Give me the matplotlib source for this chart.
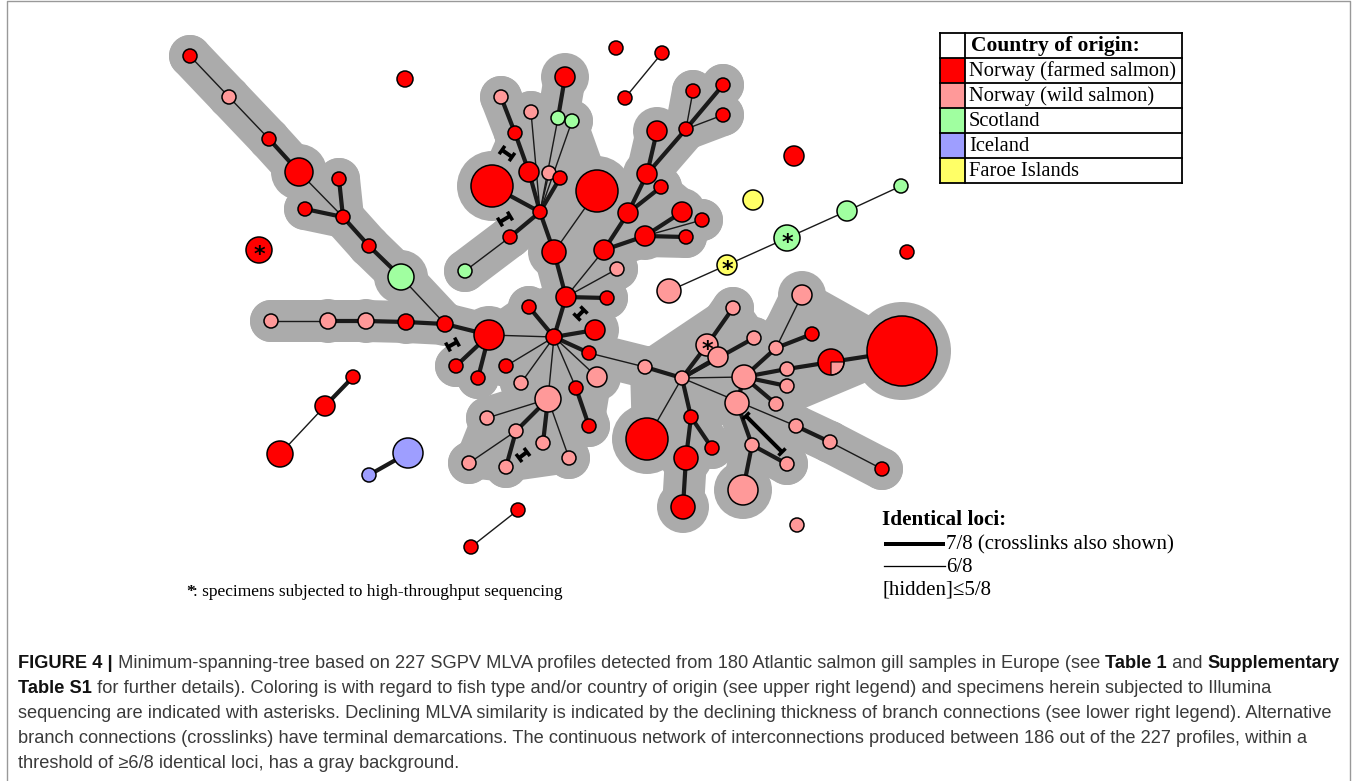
import matplotlib
matplotlib.use("Agg")
import matplotlib.pyplot as plt
from matplotlib.patches import Circle, Wedge, Rectangle, Polygon
import numpy as np

# ---------------- data ----------------
# node positions (layout of the minimum spanning tree), radius, category
node_x = [190, 229, 269, 299, 339, 305, 343, 369, 401, 445,
          271, 328, 366, 406, 489, 456, 478, 554, 529, 566,
          607, 595, 589, 506, 521, 548, 576, 597, 589, 487,
          516, 543, 569, 469, 506, 565, 501, 531, 558, 572,
          515, 529, 549, 560, 492, 597, 540, 510, 465, 554,
          617, 604, 628, 647, 657, 661, 686, 693, 723, 723,
          645, 682, 702, 686, 645, 682, 707, 733, 718, 754,
          744, 776, 802, 812, 787, 787, 776, 831, 902, 737,
          752, 787, 743, 796, 830, 882, 647, 691, 712, 686,
          683,
          405, 259, 616, 662, 625, 794, 753, 669, 727, 787,
          847, 901, 907, 353, 325, 280, 408, 369, 518, 471, 797]
node_y = [56, 97, 139, 172, 179, 209, 217, 246, 277, 324,
          321, 321, 321, 322, 335, 366, 378, 337, 307, 297,
          298, 330, 353, 366, 383, 399, 388, 377, 426, 418,
          431, 443, 458, 463, 467, 77, 97, 112, 118, 121,
          133, 172, 173, 178, 186, 191, 212, 237, 271, 252,
          269, 250, 213, 174, 131, 187, 129, 91, 85, 115,
          236, 212, 220, 237, 367, 378, 345, 308, 357, 338,
          377, 348, 295, 334, 369, 386, 404, 362, 351, 403,
          445, 464, 490, 426, 442, 469, 439, 417, 448, 458,
          507,
          79, 250, 48, 53, 98, 156, 200, 291, 265, 238,
          211, 186, 252, 377, 406, 454, 453, 475, 510, 547, 525]
node_r = [7, 7, 7, 14, 7, 7, 7, 7, 13, 8,
          7, 8, 8, 8, 15, 7, 7, 8, 7, 10,
          7, 10, 7, 7, 7, 13, 7, 10, 7, 7,
          7, 7, 7, 7, 7, 10, 7, 7, 7, 7,
          7, 10, 7, 7, 21, 21, 7, 7, 7, 12,
          7, 10, 10, 10, 10, 7, 7, 7, 7, 7,
          10, 10, 7, 7, 7, 7, 11, 7, 10, 7,
          12, 7, 10, 7, 7, 7, 7, 13, 35, 12,
          7, 7, 15, 7, 7, 7, 21, 7, 7, 12,
          12,
          8, 13, 7, 7, 7, 10, 10, 12, 10, 13,
          10, 7, 7, 7, 10, 13, 15, 7, 7, 7, 7]
# R farmed Norway, P wild Norway, G Scotland, B Iceland, Y Faroe, M mixed
node_cat = list("RPRRRRRRGR" "PPPRRRRRRR" "RRRRPPRPRP" "PPPPPRPPGG"
                "RRPRRRRRGR" "PRRRRRRRRR" "RRRRPPPPPP" "PPPRPPPMRP"
                "PPPPPRRRRR" "R" "RRRRRRYPYG" "GGRRRRBBRRP")
starred = [66, 92, 99, 100]
n_gray = 91  # first 91 nodes form the connected >=6/8 network

edge_a = [0, 1, 2, 3, 4, 5, 6, 7, 8, 10, 11, 12, 13, 9,
          14, 14, 14, 17, 17, 17, 17, 17, 17, 17, 17, 17, 26, 19, 22,
          25, 25, 25, 25, 30, 30,
          19, 49, 46, 41, 40, 46, 46, 46, 46, 35, 46, 44, 47, 48, 45,
          19, 19, 51, 52, 53, 53, 56, 56, 56, 52, 51, 60, 60, 60,
          64, 65, 66, 65, 65, 65, 65, 65, 65, 87, 87, 89,
          70, 71, 71, 70, 70, 70, 74, 77, 70, 79, 80, 80, 83, 84,
          94, 98, 99, 100, 101, 104, 105, 107, 109]
edge_b = [1, 2, 3, 6, 6, 6, 7, 8, 9, 11, 12, 13, 9, 14,
          15, 16, 17, 18, 19, 21, 22, 23, 24, 25, 26, 27, 28, 20, 64,
          29, 30, 31, 32, 33, 34,
          49, 46, 41, 40, 36, 43, 42, 38, 39, 38, 37, 46, 46, 47, 49,
          50, 51, 52, 53, 54, 56, 57, 58, 59, 55, 60, 61, 62, 63,
          65, 66, 67, 68, 69, 70, 83, 86, 87, 88, 89, 90,
          71, 72, 73, 74, 75, 76, 77, 78, 79, 80, 82, 81, 84, 85,
          95, 99, 100, 101, 102, 105, 106, 108, 110]
edge_thick = [0, 0, 1, 0, 1, 1, 1, 1, 0, 0, 1, 1, 1, 1,
              1, 1, 0, 1, 1, 1, 1, 0, 0, 0, 0, 0, 1, 1, 0,
              0, 1, 1, 0, 0, 1,
              1, 1, 1, 1, 1, 1, 0, 0, 0, 1, 0, 1, 1, 0, 0,
              0, 0, 1, 1, 1, 1, 0, 1, 0, 1, 1, 1, 0, 1,
              1, 1, 1, 1, 1, 0, 0, 0, 1, 1, 1, 1,
              1, 0, 1, 1, 1, 1, 1, 1, 1, 1, 1, 1, 1, 0,
              0, 0, 0, 0, 0, 1, 0, 1, 0]

# local clusters whose area is shaded as a whole
shade_groups = [[14, 17, 18, 19, 21, 22, 23, 24, 25, 26, 27, 28],
                [25, 29, 30, 31, 32, 33, 34],
                [64, 65, 66, 67, 68, 69, 70, 79, 86, 87],
                [70, 71, 72, 73, 74, 75, 76, 77, 78, 79],
                [40, 41, 42, 43, 44, 45, 46, 38, 39],
                [51, 52, 53, 55, 60, 61, 62, 63]]

# crosslinks: (x1, y1, x2, y2)
cross_links = [(502, 150, 512, 157), (500, 222, 510, 216), (577, 317, 584, 310),
               (448, 347, 457, 342), (519, 458, 527, 452), (746, 416, 782, 452)]

cat_colors = {"R": "#FF0000", "P": "#FF9999", "G": "#A0FFA0",
              "B": "#9E9EFF", "Y": "#FFFF66"}
legend_labels = ["Norway (farmed salmon)", "Norway (wild salmon)", "Scotland",
                 "Iceland", "Faroe Islands"]
legend_cats = ["R", "P", "G", "B", "Y"]

# ---------------- figure ----------------
W, H = 1355, 781
fig = plt.figure(figsize=(W / 100, H / 100), dpi=100)
ax = fig.add_axes([0, 0, 1, 1])
ax.set_xlim(0, W)
ax.set_ylim(H, 0)
ax.axis("off")

GRAY = "#ABABAB"
px2pt = 72 / 100


def hull(points):
    pts = sorted(set(points))
    if len(pts) < 3:
        return pts

    def cross(o, a, b):
        return (a[0] - o[0]) * (b[1] - o[1]) - (a[1] - o[1]) * (b[0] - o[0])
    lower, upper = [], []
    for p in pts:
        while len(lower) >= 2 and cross(lower[-2], lower[-1], p) <= 0:
            lower.pop()
        lower.append(p)
    for p in reversed(pts):
        while len(upper) >= 2 and cross(upper[-2], upper[-1], p) <= 0:
            upper.pop()
        upper.append(p)
    return lower[:-1] + upper[:-1]


# gray background network
for grp in shade_groups:
    hp = hull([(node_x[i], node_y[i]) for i in grp])
    ax.add_patch(Polygon(hp, closed=True, facecolor=GRAY, edgecolor=GRAY,
                         lw=30 * px2pt, joinstyle="round", zorder=1))
for a, b in zip(edge_a, edge_b):
    if a < n_gray and b < n_gray:
        ax.plot([node_x[a], node_x[b]], [node_y[a], node_y[b]], color=GRAY,
                lw=42 * px2pt, solid_capstyle="round", zorder=1)
for i in range(n_gray):
    ax.add_patch(Circle((node_x[i], node_y[i]), node_r[i] + 14, color=GRAY,
                        lw=0, zorder=1))

# edges
for a, b, t in zip(edge_a, edge_b, edge_thick):
    ax.plot([node_x[a], node_x[b]], [node_y[a], node_y[b]], color="#1a1a1a",
            lw=(4.2 if t else 1.4) * px2pt, solid_capstyle="butt", zorder=2)

# crosslinks with terminal demarcations
for x1, y1, x2, y2 in cross_links:
    ax.plot([x1, x2], [y1, y2], color="black", lw=4 * px2pt, zorder=3,
            solid_capstyle="butt")
    dx, dy = x2 - x1, y2 - y1
    L = np.hypot(dx, dy)
    nx_, ny_ = -dy / L * 5, dx / L * 5
    for (px, py) in [(x1, y1), (x2, y2)]:
        ax.plot([px - nx_, px + nx_], [py - ny_, py + ny_], color="black",
                lw=3.5 * px2pt, zorder=3, solid_capstyle="butt")

# nodes
for i in range(len(node_x)):
    c = node_cat[i]
    if c == "M":
        ax.add_patch(Circle((node_x[i], node_y[i]), node_r[i], facecolor=cat_colors["R"],
                            edgecolor="none", zorder=4))
        ax.add_patch(Wedge((node_x[i], node_y[i]), node_r[i], 0, 90,
                           facecolor=cat_colors["P"], edgecolor="black", lw=0.8, zorder=4))
        ax.add_patch(Circle((node_x[i], node_y[i]), node_r[i], facecolor="none",
                            edgecolor="black", lw=1.1, zorder=4))
    else:
        ax.add_patch(Circle((node_x[i], node_y[i]), node_r[i], facecolor=cat_colors[c],
                            edgecolor="black", lw=1.1, zorder=4))
for i in starred:
    ax.text(node_x[i], node_y[i] + 5, "*", ha="center", va="center", fontsize=16,
            fontweight="bold", color="black", zorder=5, family="DejaVu Sans")

# ---------------- legends ----------------
serif = "Liberation Serif"
tx0, tx1, tcol = 940, 1182, 965
ty = [33, 58, 83, 108, 133, 158, 183]
for k, c in enumerate(legend_cats):
    ax.add_patch(Rectangle((tx0, ty[k + 1]), tcol - tx0, ty[k + 2] - ty[k + 1],
                           facecolor=cat_colors[c], edgecolor="none", zorder=5))
for yy in ty:
    ax.plot([tx0, tx1], [yy, yy], color="black", lw=1.3, zorder=6)
for xx in (tx0, tcol, tx1):
    ax.plot([xx, xx], [ty[0], ty[-1]], color="black", lw=1.3, zorder=6)
ax.text(971, 46, "Country of origin:", fontsize=15.5, fontweight="bold",
        family=serif, va="center", ha="left", zorder=6)
for k, lab in enumerate(legend_labels):
    ax.text(969, (ty[k + 1] + ty[k + 2]) / 2 + 1, lab, fontsize=14.8, family=serif,
            va="center", ha="left", zorder=6)

ax.text(882, 520, "Identical loci:", fontsize=15.3, fontweight="bold", family=serif,
        va="center", ha="left")
ax.plot([884, 945], [544, 544], color="black", lw=4 * px2pt, solid_capstyle="butt")
ax.text(946, 545, "7/8 (crosslinks also shown)", fontsize=15, family=serif,
        va="center", ha="left")
ax.plot([884, 945], [566, 566], color="black", lw=1.3 * px2pt)
ax.text(946, 567, "6/8", fontsize=15, family=serif, va="center", ha="left")
ax.text(882, 590, "[hidden]\u22645/8", fontsize=15, family=serif, va="center", ha="left")

ax.text(186, 592, "*", fontsize=12.5, fontweight="bold", family=serif,
        va="center", ha="left")
ax.text(193, 592, ": specimens subjected to high-throughput sequencing", fontsize=12.5,
        family=serif, va="center", ha="left")

# ---------------- caption ----------------
cap_font = "Liberation Sans"
caption = [
    [("FIGURE 4 |", True), (" Minimum-spanning-tree based on 227 SGPV MLVA profiles detected from 180 Atlantic salmon gill samples in Europe (see ", False),
     ("Table 1", True), (" and ", False), ("Supplementary", True)],
    [("Table S1", True), (" for further details). Coloring is with regard to fish type and/or country of origin (see upper right legend) and specimens herein subjected to Illumina", False)],
    [("sequencing are indicated with asterisks. Declining MLVA similarity is indicated by the declining thickness of branch connections (see lower right legend). Alternative", False)],
    [("branch connections (crosslinks) have terminal demarcations. The continuous network of interconnections produced between 186 out of the 227 profiles, within a", False)],
    [("threshold of \u22656/8 identical loci, has a gray background.", False)],
]
renderer = fig.canvas.get_renderer()


def draw_caption(size):
    texts = []
    widths = []
    for li, segs in enumerate(caption):
        x = 18
        y = 668 + 25 * li
        for s, bold in segs:
            t = ax.text(x, y, s, fontsize=size, fontweight="bold" if bold else "normal",
                        family=cap_font, va="baseline", ha="left",
                        color="#111111" if bold else "#3a3a3a")
            bb = t.get_window_extent(renderer)
            x += bb.width
            texts.append(t)
        widths.append(x - 18)
    return texts, widths


texts, widths = draw_caption(12)
scale = 1320 / widths[0]
for t in texts:
    t.remove()
draw_caption(12 * scale)

# frame
ax.plot([7, 7, 1350, 1350], [H, 1, 1, H], color="#999999", lw=1.0)

fig.savefig("out.png", dpi=100)
